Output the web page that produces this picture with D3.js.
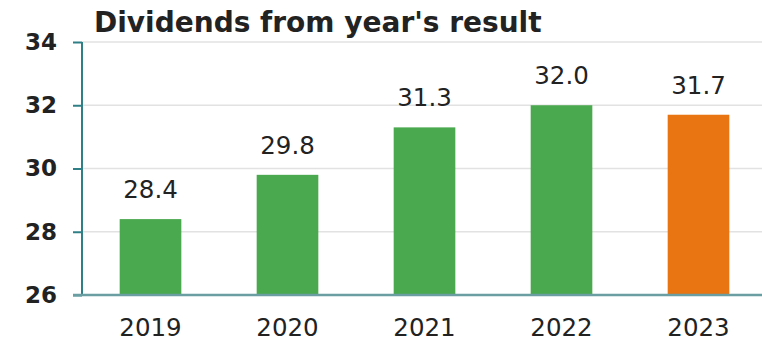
<!DOCTYPE html>
<html>
<head>
<meta charset="utf-8">
<script src="https://cdn.jsdelivr.net/npm/d3@7"></script>
<style>
  body { margin: 0; background: #fff; }
  text { font-family: "DejaVu Sans", sans-serif; fill: #222; }
</style>
</head>
<body>
<div id="chart"></div>
<script>
var years = ["2019", "2020", "2021", "2022", "2023"];
var dividends = [28.4, 29.8, 31.3, 32.0, 31.7];
var yTicks = [26, 28, 30, 32, 34];
var barColors = ["#4aa84e", "#4aa84e", "#4aa84e", "#4aa84e", "#e87511"];

var margin = {top: 42, right: 0, bottom: 44, left: 82};
var width = 762 - margin.left - margin.right,
    height = 339 - margin.top - margin.bottom;

var svg = d3.select("#chart").append("svg")
    .attr("width", 762)
    .attr("height", 339);

var g = svg.append("g")
    .attr("transform", "translate(" + margin.left + "," + margin.top + ")");

var x = d3.scaleBand()
    .domain(years)
    .range([0, 685])
    .paddingInner(0.55)
    .paddingOuter(0.275);

var y = d3.scaleLinear()
    .domain([26, 34])
    .range([height, 0]);

// grid lines
g.append("g")
    .selectAll("line")
    .data(yTicks.slice(1))
    .enter().append("line")
    .attr("x1", 0)
    .attr("x2", width)
    .attr("y1", d => y(d))
    .attr("y2", d => y(d))
    .attr("stroke", "#e2e2e2")
    .attr("stroke-width", 1.5);

// bars
g.append("g")
    .selectAll("rect")
    .data(dividends)
    .enter().append("rect")
    .attr("x", (d, i) => x(years[i]))
    .attr("y", d => y(d))
    .attr("width", x.bandwidth())
    .attr("height", d => height - y(d))
    .attr("fill", (d, i) => barColors[i]);

// value labels
g.append("g")
    .selectAll("text")
    .data(dividends)
    .enter().append("text")
    .attr("x", (d, i) => x(years[i]) + x.bandwidth() / 2)
    .attr("y", d => y(d) - 21)
    .attr("text-anchor", "middle")
    .style("font-size", "24.5px")
    .text(d => d.toFixed(1));

// y axis
var yAxis = g.append("g")
    .call(d3.axisLeft(y).tickValues(yTicks).tickSize(9).tickPadding(16).tickFormat(d3.format("d")));
yAxis.select(".domain").attr("stroke", "#2f7f86").attr("stroke-width", 2).attr("d", "M0," + height + "V0");
yAxis.selectAll(".tick line").attr("stroke", "#2f7f86").attr("stroke-width", 2);
yAxis.selectAll(".tick text")
    .style("font-size", "23px")
    .style("font-weight", "bold")
    .style("font-family", "'DejaVu Sans', sans-serif")
    .attr("fill", "#222");

// x axis
var xAxis = g.append("g")
    .attr("transform", "translate(0," + height + ")")
    .call(d3.axisBottom(x).tickSize(0).tickPadding(24));
xAxis.select(".domain").attr("stroke", "#6a9ea3").attr("stroke-width", 2.5).attr("d", "M-9,0H" + width);
xAxis.selectAll(".tick text")
    .style("font-size", "24.5px")
    .style("font-family", "'DejaVu Sans', sans-serif")
    .attr("fill", "#222");

// title
svg.append("text")
    .attr("x", 94)
    .attr("y", 32)
    .style("font-size", "28px")
    .style("font-weight", "bold")
    .text("Dividends from year's result");
</script>
</body>
</html>
